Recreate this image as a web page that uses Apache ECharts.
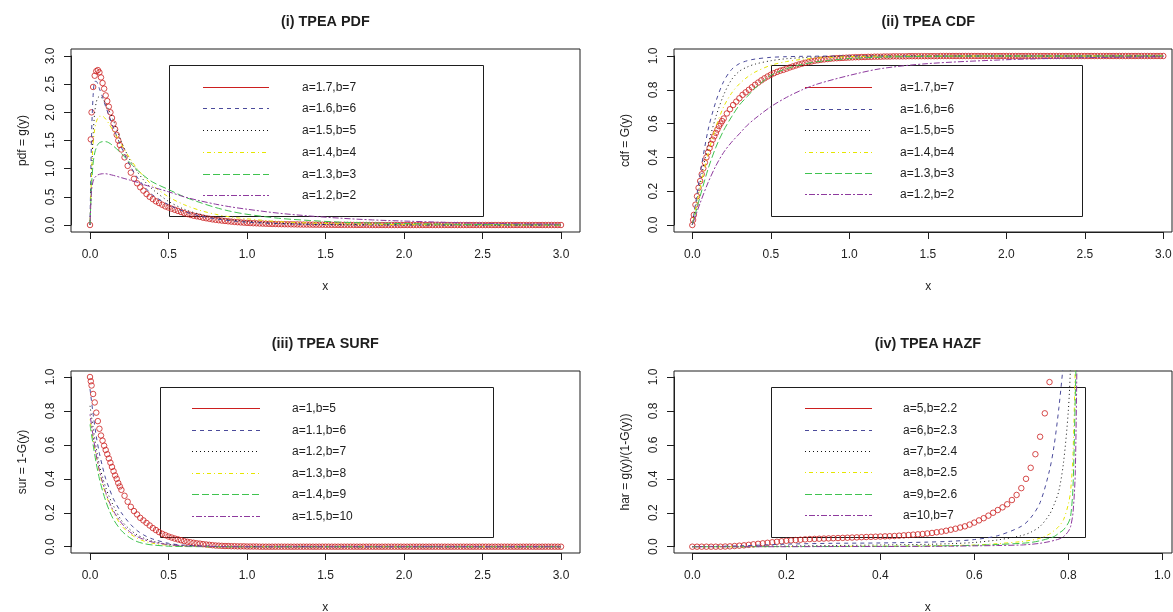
<!DOCTYPE html>
<html>
<head>
<meta charset="utf-8">
<title>TPEA PDF / CDF / SURF / HAZF</title>
<script src="https://cdn.jsdelivr.net/npm/echarts@6/dist/echarts.min.js"></script>
<style>
  html, body { margin: 0; padding: 0; background: #fff; }
  #chart { width: 1173px; height: 612px; }
</style>
</head>
<body>
<div id="chart"></div>
<script>
// ---------- data ----------

// x positions of the red circles (panels i - iii)
var circleX = [
    0, 0.005, 0.01, 0.02, 0.03, 0.04, 0.05, 0.06, 0.07, 0.08,
    0.09, 0.1, 0.11, 0.12, 0.13, 0.14, 0.15, 0.16, 0.17, 0.18,
    0.19, 0.2, 0.22, 0.24, 0.26, 0.28, 0.3, 0.32, 0.34, 0.36,
    0.38, 0.4, 0.42, 0.44, 0.46, 0.48, 0.5, 0.52, 0.54, 0.56,
    0.58, 0.6, 0.62, 0.64, 0.66, 0.68, 0.7, 0.72, 0.74, 0.76,
    0.78, 0.8, 0.82, 0.84, 0.86, 0.88, 0.9, 0.92, 0.94, 0.96,
    0.98, 1, 1.02, 1.04, 1.06, 1.08, 1.1, 1.12, 1.14, 1.16,
    1.18, 1.2, 1.22, 1.24, 1.26, 1.28, 1.3, 1.32, 1.34, 1.36,
    1.38, 1.4, 1.42, 1.44, 1.46, 1.48, 1.5, 1.52, 1.54, 1.56,
    1.58, 1.6, 1.62, 1.64, 1.66, 1.68, 1.7, 1.72, 1.74, 1.76,
    1.78, 1.8, 1.82, 1.84, 1.86, 1.88, 1.9, 1.92, 1.94, 1.96,
    1.98, 2, 2.02, 2.04, 2.06, 2.08, 2.1, 2.12, 2.14, 2.16,
    2.18, 2.2, 2.22, 2.24, 2.26, 2.28, 2.3, 2.32, 2.34, 2.36,
    2.38, 2.4, 2.42, 2.44, 2.46, 2.48, 2.5, 2.52, 2.54, 2.56,
    2.58, 2.6, 2.62, 2.64, 2.66, 2.68, 2.7, 2.72, 2.74, 2.76,
    2.78, 2.8, 2.82, 2.84, 2.86, 2.88, 2.9, 2.92, 2.94, 2.96,
    2.98, 3
]

// (i) pdf, red circles a=1.7,b=7
var pdfCircle = [
    0, 1.52, 2.0, 2.45, 2.65, 2.73, 2.75, 2.71, 2.62, 2.52,
    2.42, 2.3, 2.2, 2.1, 2.0, 1.9, 1.8, 1.7, 1.6, 1.5,
    1.42, 1.34, 1.2, 1.05, 0.93, 0.82, 0.74, 0.67, 0.61, 0.55,
    0.5, 0.46, 0.42, 0.39, 0.36, 0.33, 0.31, 0.29, 0.27, 0.25,
    0.23, 0.21, 0.195, 0.18, 0.165, 0.155, 0.145, 0.13, 0.12, 0.11,
    0.1, 0.092, 0.085, 0.078, 0.072, 0.066, 0.06, 0.055, 0.05, 0.046,
    0.042, 0.038, 0.035, 0.032, 0.03, 0.027, 0.025, 0.023, 0.021, 0.019,
    0.018, 0.016, 0.015, 0.014, 0.013, 0.012, 0.011, 0.01, 0.009, 0.008,
    0.008, 0.007, 0.006, 0.006, 0.005, 0.005, 0.004, 0.004, 0.003, 0.003,
    0.003, 0.002, 0.002, 0.002, 0.002, 0.001, 0.001, 0.001, 0.001, 0.001,
    0, 0, 0, 0, 0, 0, 0, 0, 0, 0,
    0, 0, 0, 0, 0, 0, 0, 0, 0, 0,
    0, 0, 0, 0, 0, 0, 0, 0, 0, 0,
    0, 0, 0, 0, 0, 0, 0, 0, 0, 0,
    0, 0, 0, 0, 0, 0, 0, 0, 0, 0,
    0, 0, 0, 0, 0, 0, 0, 0, 0, 0,
    0, 0
]

// (ii) cdf, red circles a=1.7,b=7
var cdfCircle = [
    0, 0.03, 0.06, 0.12, 0.17, 0.22, 0.26, 0.3, 0.335, 0.37,
    0.4, 0.43, 0.455, 0.48, 0.505, 0.525, 0.545, 0.565, 0.585, 0.6,
    0.615, 0.63, 0.66, 0.685, 0.71, 0.73, 0.75, 0.77, 0.785, 0.8,
    0.815, 0.83, 0.843, 0.856, 0.868, 0.879, 0.889, 0.898, 0.906, 0.913,
    0.918, 0.925, 0.932, 0.938, 0.944, 0.95, 0.955, 0.96, 0.964, 0.968,
    0.972, 0.975, 0.978, 0.98, 0.982, 0.984, 0.986, 0.987, 0.988, 0.989,
    0.99, 0.991, 0.992, 0.993, 0.993, 0.994, 0.994, 0.995, 0.995, 0.996,
    0.996, 0.996, 0.997, 0.997, 0.997, 0.998, 0.998, 0.998, 0.998, 0.998,
    0.999, 0.999, 0.999, 0.999, 0.999, 0.999, 0.999, 0.999, 0.999, 0.999,
    1, 1, 1, 1, 1, 1, 1, 1, 1, 1,
    1, 1, 1, 1, 1, 1, 1, 1, 1, 1,
    1, 1, 1, 1, 1, 1, 1, 1, 1, 1,
    1, 1, 1, 1, 1, 1, 1, 1, 1, 1,
    1, 1, 1, 1, 1, 1, 1, 1, 1, 1,
    1, 1, 1, 1, 1, 1, 1, 1, 1, 1,
    1, 1, 1, 1, 1, 1, 1, 1, 1, 1,
    1, 1
]

// (iii) survival, red circles a=1,b=5
var surCircle = [
    1, 0.975, 0.95, 0.9, 0.85, 0.79, 0.74, 0.695, 0.655, 0.625,
    0.595, 0.57, 0.545, 0.52, 0.495, 0.47, 0.445, 0.42, 0.4, 0.375,
    0.355, 0.335, 0.3, 0.265, 0.235, 0.21, 0.19, 0.17, 0.155, 0.14,
    0.125, 0.11, 0.098, 0.086, 0.076, 0.068, 0.06, 0.054, 0.048, 0.043,
    0.038, 0.033, 0.029, 0.026, 0.023, 0.02, 0.018, 0.015, 0.013, 0.011,
    0.009, 0.007, 0.006, 0.005, 0.004, 0.004, 0.003, 0.003, 0.002, 0.002,
    0.002, 0.001, 0.001, 0.001, 0.001, 0, 0, 0, 0, 0,
    0, 0, 0, 0, 0, 0, 0, 0, 0, 0,
    0, 0, 0, 0, 0, 0, 0, 0, 0, 0,
    0, 0, 0, 0, 0, 0, 0, 0, 0, 0,
    0, 0, 0, 0, 0, 0, 0, 0, 0, 0,
    0, 0, 0, 0, 0, 0, 0, 0, 0, 0,
    0, 0, 0, 0, 0, 0, 0, 0, 0, 0,
    0, 0, 0, 0, 0, 0, 0, 0, 0, 0,
    0, 0, 0, 0, 0, 0, 0, 0, 0, 0,
    0, 0, 0, 0, 0, 0, 0, 0, 0, 0,
    0, 0
]

// (iv) hazard, red circles a=5,b=2.2
var hazCircleX = [
    0, 0.01, 0.02, 0.03, 0.04, 0.05, 0.06, 0.07, 0.08, 0.09,
    0.1, 0.11, 0.12, 0.13, 0.14, 0.15, 0.16, 0.17, 0.18, 0.19,
    0.2, 0.21, 0.22, 0.23, 0.24, 0.25, 0.26, 0.27, 0.28, 0.29,
    0.3, 0.31, 0.32, 0.33, 0.34, 0.35, 0.36, 0.37, 0.38, 0.39,
    0.4, 0.41, 0.42, 0.43, 0.44, 0.45, 0.46, 0.47, 0.48, 0.49,
    0.5, 0.51, 0.52, 0.53, 0.54, 0.55, 0.56, 0.57, 0.58, 0.59,
    0.6, 0.61, 0.62, 0.63, 0.64, 0.65, 0.66, 0.67, 0.68, 0.69,
    0.7, 0.71, 0.72, 0.73, 0.74, 0.75, 0.76
]
var hazCircle = [
    0, 0, 0, 0, 0, 0, 0, 0.001, 0.002, 0.004,
    0.006, 0.008, 0.011, 0.014, 0.017, 0.02, 0.023, 0.026, 0.029, 0.032,
    0.035, 0.037, 0.039, 0.041, 0.043, 0.045, 0.046, 0.047, 0.048, 0.049,
    0.05, 0.051, 0.052, 0.053, 0.054, 0.055, 0.056, 0.057, 0.058, 0.059,
    0.06, 0.061, 0.062, 0.063, 0.065, 0.067, 0.069, 0.071, 0.073, 0.075,
    0.078, 0.081, 0.085, 0.089, 0.094, 0.1, 0.106, 0.113, 0.12, 0.13,
    0.142, 0.155, 0.168, 0.183, 0.2, 0.216, 0.232, 0.25, 0.275, 0.305,
    0.345, 0.4, 0.465, 0.545, 0.648, 0.786, 0.97
]

// (i) pdf curves
var pdfX = [0, 0.01, 0.02, 0.03, 0.04, 0.05, 0.06, 0.08, 0.1, 0.12, 0.15, 0.2, 0.25, 0.3, 0.35,
    0.4, 0.5, 0.6, 0.7, 0.8, 0.9, 1, 1.2, 1.4, 1.6, 1.8, 2, 2.5, 3]
var pdfBlue = [0, 1.6, 2.3, 2.55, 2.55, 2.5, 2.42, 2.27, 2.1, 1.95, 1.72, 1.38, 1.08, 0.85, 0.67,
    0.53, 0.36, 0.24, 0.16, 0.11, 0.075, 0.05, 0.025, 0.012, 0.006, 0.003, 0.002, 0, 0]
var pdfBlack = [0, 0.9, 1.6, 2.0, 2.18, 2.26, 2.28, 2.24, 2.15, 2.04, 1.85, 1.48, 1.18, 0.95, 0.77,
    0.63, 0.42, 0.28, 0.19, 0.13, 0.09, 0.065, 0.03, 0.015, 0.008, 0.004, 0.002, 0, 0]
var pdfYellow = [0, 0.9, 1.45, 1.7, 1.83, 1.9, 1.93, 1.93, 1.88, 1.8, 1.66, 1.43, 1.2, 1.0, 0.84,
    0.7, 0.5, 0.36, 0.26, 0.19, 0.14, 0.11, 0.06, 0.035, 0.02, 0.012, 0.007, 0.002, 0]
var pdfGreen = [0, 0.7, 1.1, 1.28, 1.37, 1.43, 1.46, 1.48, 1.48, 1.46, 1.4, 1.27, 1.12, 0.98, 0.86,
    0.76, 0.63, 0.5, 0.4, 0.31, 0.24, 0.19, 0.12, 0.08, 0.05, 0.035, 0.025, 0.008, 0.003]
var pdfPurple = [0, 0.62, 0.78, 0.84, 0.87, 0.89, 0.9, 0.91, 0.91, 0.9, 0.88, 0.84, 0.8, 0.76, 0.71,
    0.67, 0.59, 0.5, 0.43, 0.37, 0.32, 0.28, 0.21, 0.16, 0.12, 0.09, 0.07, 0.03, 0.015]

// (ii) cdf curves
var cdfX = [0, 0.05, 0.1, 0.15, 0.2, 0.25, 0.3, 0.35, 0.4, 0.5, 0.6, 0.7, 0.8, 1, 1.2, 1.5, 2, 2.5, 3]
var cdfBlue = [0, 0.3, 0.56, 0.73, 0.85, 0.92, 0.955, 0.972, 0.982, 0.992, 0.996, 0.998, 0.999, 1, 1, 1, 1, 1, 1]
var cdfBlack = [0, 0.25, 0.47, 0.64, 0.77, 0.86, 0.91, 0.935, 0.952, 0.972, 0.984, 0.99, 0.995, 0.999, 1, 1, 1, 1, 1]
var cdfYellow = [0, 0.22, 0.42, 0.58, 0.7, 0.78, 0.835, 0.875, 0.905, 0.945, 0.967, 0.98, 0.988, 0.996, 0.999, 1, 1, 1, 1]
var cdfGreen = [0, 0.17, 0.33, 0.46, 0.56, 0.64, 0.71, 0.76, 0.81, 0.885, 0.925, 0.95, 0.967, 0.985, 0.993, 0.998, 1, 1, 1]
var cdfPurple = [0, 0.13, 0.25, 0.35, 0.43, 0.49, 0.54, 0.59, 0.63, 0.7, 0.755, 0.8, 0.835, 0.885, 0.925, 0.955, 0.978, 0.99, 0.996]

// (iii) survival curves
var surX = [0, 0.02, 0.04, 0.06, 0.08, 0.1, 0.12, 0.15, 0.2, 0.25, 0.3, 0.35, 0.4, 0.5, 0.6, 0.8, 1, 3]
var surBlue = [0.93, 0.78, 0.65, 0.55, 0.47, 0.4, 0.35, 0.28, 0.2, 0.14, 0.095, 0.065, 0.045, 0.02, 0.009, 0.002, 0, 0]
var surBlack = [0.83, 0.7, 0.58, 0.48, 0.41, 0.35, 0.3, 0.24, 0.155, 0.105, 0.07, 0.048, 0.032, 0.014, 0.006, 0.001, 0, 0]
var surYellow = [0.75, 0.63, 0.53, 0.44, 0.37, 0.31, 0.26, 0.2, 0.125, 0.08, 0.05, 0.031, 0.02, 0.008, 0.003, 0, 0, 0]
var surGreen = [0.72, 0.6, 0.49, 0.4, 0.33, 0.27, 0.22, 0.16, 0.095, 0.055, 0.03, 0.017, 0.01, 0.003, 0.001, 0, 0, 0]
var surPurple = [0.78, 0.65, 0.54, 0.45, 0.38, 0.32, 0.27, 0.21, 0.14, 0.09, 0.06, 0.04, 0.027, 0.012, 0.005, 0.001, 0, 0]

// (iv) hazard curves (values above 1 run off the top of the box)
var hazX = [0, 0.1, 0.2, 0.3, 0.4, 0.5, 0.55, 0.6, 0.65, 0.7, 0.72, 0.74, 0.76, 0.77, 0.78, 0.79, 0.8, 0.805, 0.81, 0.815, 0.82]
var hazBlue = [0, 0.005, 0.015, 0.02, 0.022, 0.027, 0.032, 0.042, 0.065, 0.12, 0.17, 0.26, 0.45, 0.6, 0.82, 1.1, 1.5, 2, 3, 4, 5]
var hazBlack = [0, 0.001, 0.004, 0.007, 0.01, 0.014, 0.018, 0.025, 0.04, 0.065, 0.085, 0.12, 0.19, 0.25, 0.33, 0.5, 0.8, 1.1, 2, 3, 4]
var hazYellow = [0, 0, 0.001, 0.002, 0.003, 0.005, 0.007, 0.01, 0.018, 0.03, 0.038, 0.05, 0.075, 0.095, 0.12, 0.16, 0.25, 0.33, 0.55, 1.1, 2]
var hazGreen = [0, 0, 0.001, 0.001, 0.002, 0.004, 0.006, 0.008, 0.013, 0.02, 0.025, 0.035, 0.05, 0.06, 0.08, 0.1, 0.14, 0.18, 0.35, 0.9, 1.5]
var hazPurple = [0, 0, 0, 0.001, 0.001, 0.002, 0.003, 0.005, 0.007, 0.01, 0.014, 0.02, 0.03, 0.037, 0.045, 0.06, 0.09, 0.12, 0.2, 0.45, 1.5]

// legend labels
var pdfNames = ['a=1.7,b=7', 'a=1.6,b=6', 'a=1.5,b=5', 'a=1.4,b=4', 'a=1.3,b=3', 'a=1.2,b=2']
var cdfNames = ['a=1.7,b=7', 'a=1.6,b=6', 'a=1.5,b=5', 'a=1.4,b=4', 'a=1.3,b=3', 'a=1.2,b=2']
var surNames = ['a=1,b=5', 'a=1.1,b=6', 'a=1.2,b=7', 'a=1.3,b=8', 'a=1.4,b=9', 'a=1.5,b=10']
var hazNames = ['a=5,b=2.2', 'a=6,b=2.3', 'a=7,b=2.4', 'a=8,b=2.5', 'a=9,b=2.6', 'a=10,b=7']

// ---------- styles / layout ----------
var FONT = '"Liberation Sans", Arial, sans-serif'
var INK = '#1e1e1e'
var lineColors = ['#cc1f1f', '#4b4b9b', '#111111', '#e6e600', '#3fc34f', '#8e3a9e']
var lineDash = ['solid', [4, 4], [1, 3], [1, 3, 4, 3], [7, 3], [2, 2, 6, 2]] // R lty 1..6

var panels = [
    { // (i)
        title: '(i) TPEA PDF', ylab: 'pdf = g(y)', box: [71, 49, 580, 232],
        xPix: [90, 561], xTop: 3, xStep: 0.5, yPix: [225, 56], yTop: 3, yStep: 0.5,
        circleX: circleX, circleY: pdfCircle, lineX: pdfX,
        lines: [pdfBlue, pdfBlack, pdfYellow, pdfGreen, pdfPurple], names: pdfNames,
        legend: { box: [169, 65, 483, 216], sample: [203, 269], textX: 302, row0: 86.7, gap: 21.7 }
    },
    { // (ii)
        title: '(ii) TPEA CDF', ylab: 'cdf = G(y)', box: [674, 49, 1172, 232],
        xPix: [692.3, 1163.3], xTop: 3, xStep: 0.5, yPix: [225, 56], yTop: 1, yStep: 0.2,
        circleX: circleX, circleY: cdfCircle, lineX: cdfX,
        lines: [cdfBlue, cdfBlack, cdfYellow, cdfGreen, cdfPurple], names: cdfNames,
        legend: { box: [771, 65, 1082, 216], sample: [805, 872], textX: 900, row0: 87.3, gap: 21.4 }
    },
    { // (iii)
        title: '(iii) TPEA SURF', ylab: 'sur = 1-G(y)', box: [71, 371, 580, 553],
        xPix: [90, 561], xTop: 3, xStep: 0.5, yPix: [546.7, 377], yTop: 1, yStep: 0.2,
        circleX: circleX, circleY: surCircle, lineX: surX,
        lines: [surBlue, surBlack, surYellow, surGreen, surPurple], names: surNames,
        legend: { box: [160, 387, 493, 537], sample: [192, 260], textX: 292, row0: 408, gap: 21.5 }
    },
    { // (iv)
        title: '(iv) TPEA HAZF', ylab: 'har = g(y)/(1-G(y))', box: [674, 371, 1172, 553],
        xPix: [692.3, 1162.3], xTop: 1, xStep: 0.2, yPix: [546.7, 377], yTop: 1, yStep: 0.2,
        circleX: hazCircleX, circleY: hazCircle, lineX: hazX,
        lines: [hazBlue, hazBlack, hazYellow, hazGreen, hazPurple], names: hazNames,
        legend: { box: [771, 387, 1085, 537], sample: [805, 872], textX: 903, row0: 408.3, gap: 21.3 }
    }
]

function pairs (xs, ys) { // zip x / y lists into [x, y] points
    var out = []
    for (var i = 0; i < xs.length && i < ys.length; i++) {
        out.push([xs[i], ys[i]])
    }
    return out
}

function fmt1 (v) {
    return (Math.round(v * 10) / 10).toFixed(1)
}

function txt (x, y, text, opts) {
    opts = opts || {}
    return {
        type: 'text', x: x, y: y, rotation: opts.rotation || 0, silent: true,
        style: {
            text: text, fill: INK, font: (opts.font || '12px') + ' ' + FONT,
            align: opts.align || 'center', textAlign: opts.align || 'center',
            verticalAlign: 'middle', textVerticalAlign: 'middle'
        }
    }
}

var grids = [], xAxes = [], yAxes = [], series = [], graphics = []

panels.forEach(function (p) {
    var b = p.box
    var xSpan = p.xPix[1] - p.xPix[0]
    var ySpan = p.yPix[0] - p.yPix[1]

    // plotting box holding the data
    var gData = grids.length
    grids.push({
        left: b[0], top: b[1], width: b[2] - b[0], height: b[3] - b[1],
        show: true, borderColor: INK, borderWidth: 1, backgroundColor: 'transparent',
        containLabel: false, outerBoundsMode: 'none'
    })
    xAxes.push({
        gridIndex: gData, type: 'value', show: false,
        min: -(p.xPix[0] - b[0]) / xSpan * p.xTop, max: (b[2] - p.xPix[0]) / xSpan * p.xTop
    })
    yAxes.push({
        gridIndex: gData, type: 'value', show: false,
        min: -(b[3] - p.yPix[0]) / ySpan * p.yTop, max: (p.yPix[0] - b[1]) / ySpan * p.yTop
    })

    // x axis: R style, line only from first to last tick
    var gx = grids.length
    grids.push({ left: p.xPix[0], top: b[1], width: xSpan, height: b[3] - b[1], show: false, containLabel: false, outerBoundsMode: 'none' })
    xAxes.push({
        gridIndex: gx, type: 'value', position: 'bottom', min: 0, max: p.xTop, interval: p.xStep,
        axisLine: { show: true, lineStyle: { color: INK, width: 1 } },
        axisTick: { show: true, length: 7, lineStyle: { color: INK, width: 1 } },
        axisLabel: { margin: 17, fontSize: 12, fontFamily: FONT, color: INK, formatter: fmt1 },
        splitLine: { show: false }
    })
    yAxes.push({ gridIndex: gx, type: 'value', show: false, min: 0, max: 1 })

    // y axis
    var gy = grids.length
    grids.push({ left: b[0], top: p.yPix[1], width: b[2] - b[0], height: ySpan, show: false, containLabel: false, outerBoundsMode: 'none' })
    xAxes.push({ gridIndex: gy, type: 'value', show: false, min: 0, max: 1 })
    yAxes.push({
        gridIndex: gy, type: 'value', position: 'left', min: 0, max: p.yTop, interval: p.yStep,
        axisLine: { show: true, lineStyle: { color: INK, width: 1 } },
        axisTick: { show: true, length: 7, lineStyle: { color: INK, width: 1 } },
        axisLabel: { margin: 14, rotate: 90, fontSize: 12, fontFamily: FONT, color: INK, formatter: fmt1 },
        splitLine: { show: false }
    })

    // red open circles first, curves over them
    series.push({
        type: 'scatter', xAxisIndex: gData, yAxisIndex: gData, silent: true,
        data: pairs(p.circleX, p.circleY), symbol: 'circle', symbolSize: 5.5,
        itemStyle: { color: 'rgba(0,0,0,0)', borderColor: lineColors[0], borderWidth: 1 }
    })
    p.lines.forEach(function (ys, k) {
        series.push({
            type: 'line', xAxisIndex: gData, yAxisIndex: gData, silent: true,
            data: pairs(p.lineX, ys), symbol: 'none', showSymbol: false, smooth: 0.3,
            lineStyle: { color: lineColors[k + 1], width: 1, type: lineDash[k + 1] }
        })
    })

    // legend box (transparent, like R)
    var lg = p.legend
    graphics.push({
        type: 'rect', silent: true,
        shape: { x: lg.box[0] + 0.5, y: lg.box[1] + 0.5, width: lg.box[2] - lg.box[0], height: lg.box[3] - lg.box[1] },
        style: { fill: 'none', stroke: INK, lineWidth: 1 }
    })
    p.names.forEach(function (name, k) {
        var y = Math.round(lg.row0 + k * lg.gap) + 0.5
        graphics.push({
            type: 'line', silent: true,
            shape: { x1: lg.sample[0], y1: y, x2: lg.sample[1], y2: y },
            style: { stroke: lineColors[k], lineWidth: 1, lineDash: k === 0 ? null : lineDash[k] }
        })
        graphics.push(txt(lg.textX, y, name, { align: 'left' }))
    })

    // titles
    var cx = (b[0] + b[0] + (xSpan / p.xTop) * (p.xTop * 1.08)) / 2 // R centres on the full 4%-padded box
    graphics.push(txt(cx, b[1] - 26.5, p.title, { font: 'bold 14.4px' }))
    graphics.push(txt(cx, b[3] + 55, 'x'))
    graphics.push(txt(b[0] - 48.5, (b[1] + b[3]) / 2, p.ylab, { rotation: Math.PI / 2 }))
})

var chart = echarts.init(document.getElementById('chart'), null, { renderer: 'canvas' })
chart.setOption({
    animation: false,
    backgroundColor: '#ffffff',
    grid: grids,
    xAxis: xAxes,
    yAxis: yAxes,
    series: series,
    graphic: { elements: graphics }
})
</script>
</body>
</html>
